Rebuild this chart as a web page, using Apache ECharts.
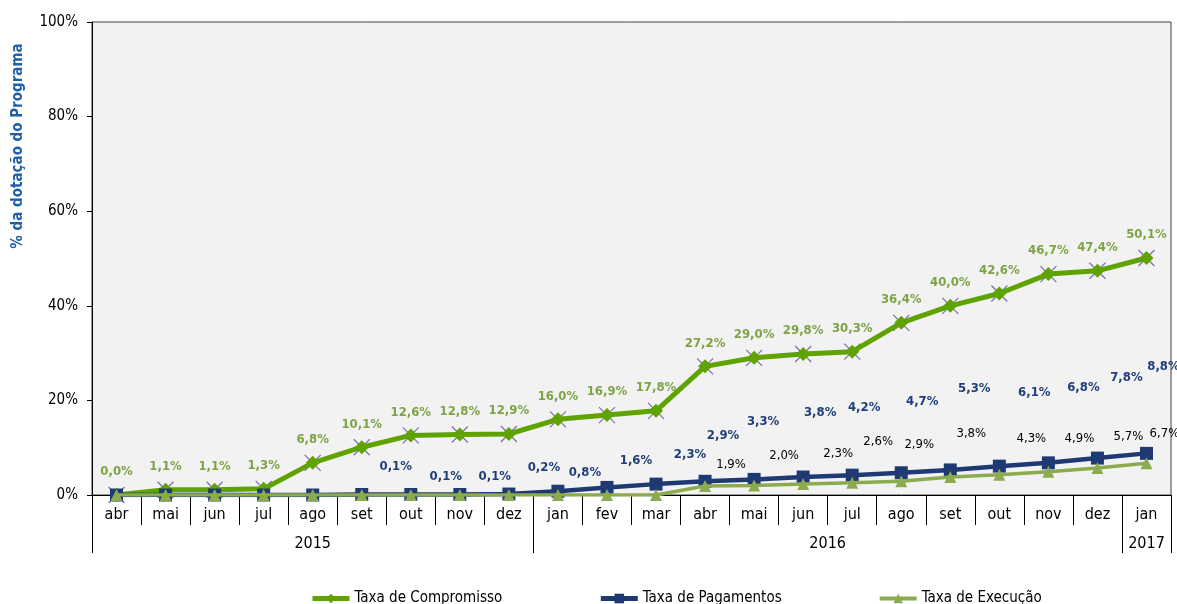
<!DOCTYPE html>
<html><head><meta charset="utf-8">
<script src="https://cdn.jsdelivr.net/npm/echarts@6/dist/echarts.min.js"></script>
<style>html,body{margin:0;padding:0;background:#fff}#c{width:1177px;height:604px}</style>
</head><body><div id="c"></div>
<script>
const months = ['abr','mai','jun','jul','ago','set','out','nov','dez','jan','fev','mar','abr','mai','jun','jul','ago','set','out','nov','dez','jan'];
const years = ['2015','2016','2017'];
const yearStart = [0, 9, 21, 22];
const compromisso = [0.0,1.1,1.1,1.3,6.8,10.1,12.6,12.8,12.9,16.0,16.9,17.8,27.2,29.0,29.8,30.3,36.4,40.0,42.6,46.7,47.4,50.1];
const pagamentos = [0,0,0,0,0,0.1,0.1,0.1,0.2,0.8,1.6,2.3,2.9,3.3,3.8,4.2,4.7,5.3,6.1,6.8,7.8,8.8];
const execucao = [0,0,0,0,0,0,0,0,0,0,0,0,1.9,2.0,2.3,2.6,2.9,3.8,4.3,4.9,5.7,6.7];
const yTicks = [0,20,40,60,80,100];

// label placement (styling, not data)
const pagLabelOffset = [null,null,null,null,null,[34,-28],[35,-18],[35,-18],[35,-26],[27,-19],[29,-27],[34,-29],[18,-46],[9,-58],[17,-64],[12,-68],[21,-71],[24,-81],[35,-74],[35,-75],[29,-80],[17,-87]];
const exeLabelOffset = [null,null,null,null,null,null,null,null,null,null,null,null,[26,-21],[30,-30],[35,-30],[26,-41],[18,-37],[21,-43],[32,-36],[31,-33],[31,-31],[18,-30]];

const FONT = '"DejaVu Sans Condensed","DejaVu Sans",sans-serif';
const fmt = v => v.toFixed(1).replace('.', ',') + '%';

function items(values, offsets, labelStyle) {
  return values.map((v, i) => {
    const off = offsets ? offsets[i] : [0, -23];
    if (!off) return { value: v, label: { show: false } };
    return { value: v, label: Object.assign({ show: true, position: 'inside', offset: off, align: 'center', verticalAlign: 'middle', formatter: () => fmt(v), fontFamily: FONT }, labelStyle) };
  });
}

const yearMid = years.map((y, i) => (yearStart[i] + yearStart[i + 1]) / 2);

const chart = echarts.init(document.getElementById('c'));
chart.setOption({
  animation: false,
  textStyle: { fontFamily: FONT },
  grid: { left: 92, right: 6, top: 22, bottom: 109, show: true, backgroundColor: '#F2F2F2', borderColor: '#404040', borderWidth: 1 },
  xAxis: [{
    type: 'category', data: months, boundaryGap: true,
    axisLine: { lineStyle: { color: '#000', width: 1 } },
    axisTick: { show: true, interval: 0, length: 30, lineStyle: { color: '#000' } },
    axisLabel: { interval: 0, margin: 12, fontSize: 16, color: '#000', fontFamily: FONT }
  }, {
    type: 'value', min: 0, max: 22, position: 'bottom',
    axisLine: { show: false }, splitLine: { show: false },
    axisTick: { show: true, customValues: yearStart, length: 58, lineStyle: { color: '#000' } },
    axisLabel: { customValues: yearMid, margin: 41, fontSize: 16, color: '#000', fontFamily: FONT,
      formatter: v => { const k = yearMid.findIndex(m => Math.abs(m - v) < 1e-6); return k >= 0 ? years[k] : ''; } }
  }],
  yAxis: {
    type: 'value', min: 0, max: 100, interval: 20,
    axisLine: { show: true, lineStyle: { color: '#000' } },
    axisTick: { show: true, length: 5, lineStyle: { color: '#000' } },
    splitLine: { show: false },
    axisLabel: { formatter: v => yTicks.includes(v) ? v + '%' : '', fontSize: 15, color: '#000', margin: 14, fontFamily: FONT }
  },
  legend: {
    data: [
      { name: 'Taxa de Compromisso', lineStyle: { width: 5 } },
      { name: 'Taxa de Pagamentos', lineStyle: { width: 5 } },
      { name: 'Taxa de Execução', lineStyle: { width: 4 } }
    ],
    left: 305, top: 586, itemWidth: 37, itemHeight: 12, itemGap: 96,
    textStyle: { fontSize: 15, color: '#000', fontFamily: FONT }
  },
  graphic: [{
    type: 'text', x: 18, y: 146, rotation: Math.PI / 2,
    style: { text: '% da dotação do Programa', font: 'bold 15px ' + FONT, fill: '#1F5FA8', align: 'center', verticalAlign: 'middle' }
  }],
  series: [{
    name: 'marks', type: 'line', data: compromisso, silent: true, z: 1,
    symbol: 'path://M0,0L10,10M10,0L0,10', symbolSize: 16,
    lineStyle: { width: 0, opacity: 0 },
    itemStyle: { color: 'rgba(0,0,0,0)', borderColor: '#7F6AAF', borderWidth: 1.2 },
    label: { show: false }
  }, {
    name: 'Taxa de Compromisso', type: 'line', z: 2,
    data: items(compromisso, null, { color: '#7DA345', fontWeight: 'bold', fontSize: 13 }),
    symbol: 'diamond', symbolSize: 14,
    lineStyle: { color: '#5EA300', width: 5 },
    itemStyle: { color: '#5EA300' }
  }, {
    name: 'Taxa de Pagamentos', type: 'line', z: 3,
    data: items(pagamentos, pagLabelOffset, { color: '#1F3E7A', fontWeight: 'bold', fontSize: 13 }),
    symbol: 'rect', symbolSize: 13,
    lineStyle: { color: '#1F3A73', width: 4.5 },
    itemStyle: { color: '#1F3A73' }
  }, {
    name: 'Taxa de Execução', type: 'line', z: 4,
    data: items(execucao, exeLabelOffset, { color: '#000', fontWeight: 'normal', fontSize: 13 }),
    symbol: 'triangle', symbolSize: 12,
    lineStyle: { color: '#8CAA4E', width: 3.5 },
    itemStyle: { color: '#8CAA4E' }
  }]
});
</script>
</body></html>
